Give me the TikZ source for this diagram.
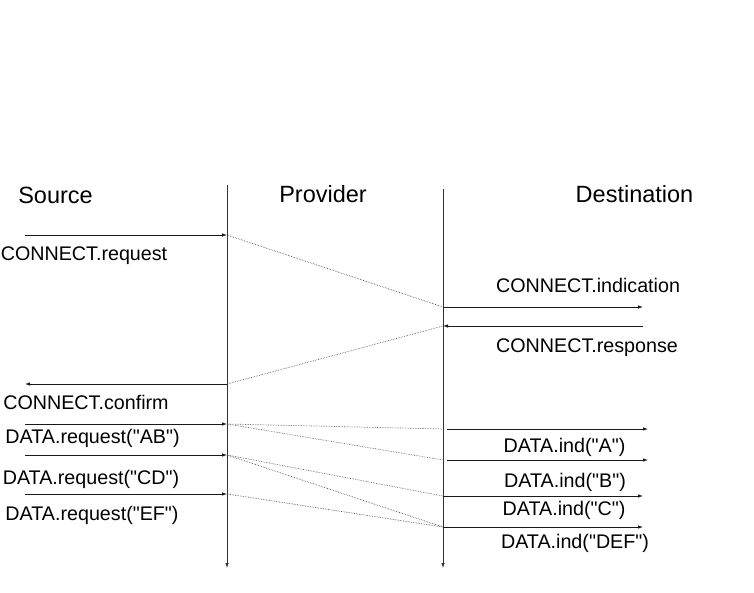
\documentclass[tikz,border=0pt]{standalone}
\usepackage{fontspec}
\setmainfont{Liberation Sans}[Ligatures=TeXOff]
\usetikzlibrary{arrows.meta}

\begin{document}
\begin{tikzpicture}[x=1pt,y=-1pt,font=\fontsize{19.7}{22}\selectfont,
    msg/.style={-{Latex[length=5pt,width=3.5pt]},line width=.75pt,black!90},
    life/.style={-{Latex[length=5pt,width=3.5pt]},line width=.75pt,black!80},
    link/.style={densely dotted,line width=.65pt,black!65},
    head/.style={font=\fontsize{23.5}{26}\selectfont,anchor=base},
    lbl/.style={anchor=base,inner sep=0pt}]
    \useasboundingbox (0,0) rectangle (754,593);
    % headings
    \node[head] (source) at (55.5,204) {Source};
    \node[head] (provider) at (323,203) {Provider};
    \node[head] (dest) at (634.5,203) {Destination};
    % lifelines
    \coordinate (ptop) at (227,185); \coordinate (pbot) at (227,568);
    \coordinate (dtop) at (443,189); \coordinate (dbot) at (443,568);
    \draw[life] (ptop) -- (pbot);
    \draw[life] (dtop) -- (dbot);
    % connect
    \coordinate (s1) at (25,235); \coordinate (p1) at (227,235);
    \coordinate (d1) at (443,307); \coordinate (e1) at (643,307);
    \coordinate (e2) at (643,326); \coordinate (d2) at (443,326);
    \coordinate (p2) at (227,384); \coordinate (s2) at (25,384);
    \draw[msg] (s1) -- (p1);
    \draw[link] (p1) -- (d1);
    \draw[msg] (d1) -- (e1);
    \draw[msg] (e2) -- (d2);
    \draw[link] (d2) -- (p2);
    \draw[msg] (p2) -- (s2);
    \node[lbl] (creq) at (84,261) {CONNECT.request};
    \node[lbl] (cind) at (588,292) {CONNECT.indication};
    \node[lbl] (cres) at (587,352) {CONNECT.response};
    \node[lbl] (ccon) at (86,409) {CONNECT.confirm};
    % data
    \coordinate (s3) at (25,424); \coordinate (p3) at (227,424);
    \coordinate (s4) at (25,455); \coordinate (p4) at (227,455);
    \coordinate (s5) at (25,494); \coordinate (p5) at (227,494);
    \coordinate (d3) at (443,429); \coordinate (d3a) at (447,429); \coordinate (e3) at (648,429);
    \coordinate (d4) at (443,460); \coordinate (d4a) at (447,460); \coordinate (e4) at (648,460);
    \coordinate (d5) at (443,496); \coordinate (e5) at (643,496);
    \coordinate (d6) at (443,527); \coordinate (e6) at (643,527);
    \draw[msg] (s3) -- (p3);
    \draw[msg] (s4) -- (p4);
    \draw[msg] (s5) -- (p5);
    \draw[link] (p3) -- (d3);
    \draw[link] (p3) -- (d4);
    \draw[link] (p4) -- (d5);
    \draw[link] (p4) -- (d6);
    \draw[link] (p5) -- (d6);
    \draw[msg] (d3a) -- (e3);
    \draw[msg] (d4a) -- (e4);
    \draw[msg] (d5) -- (e5);
    \draw[msg] (d6) -- (e6);
    \node[lbl] (dreqab) at (92.5,443) {DATA.request("AB")};
    \node[lbl] (dreqcd) at (91,484) {DATA.request("CD")};
    \node[lbl] (dreqef) at (92,520) {DATA.request("EF")};
    \node[lbl] (dinda) at (564.5,452) {DATA.ind("A")};
    \node[lbl] (dindb) at (565,487) {DATA.ind("B")};
    \node[lbl] (dindc) at (564,515) {DATA.ind("C")};
    \node[lbl] (dinddef) at (575,548) {DATA.ind("DEF")};
\end{tikzpicture}
\end{document}
